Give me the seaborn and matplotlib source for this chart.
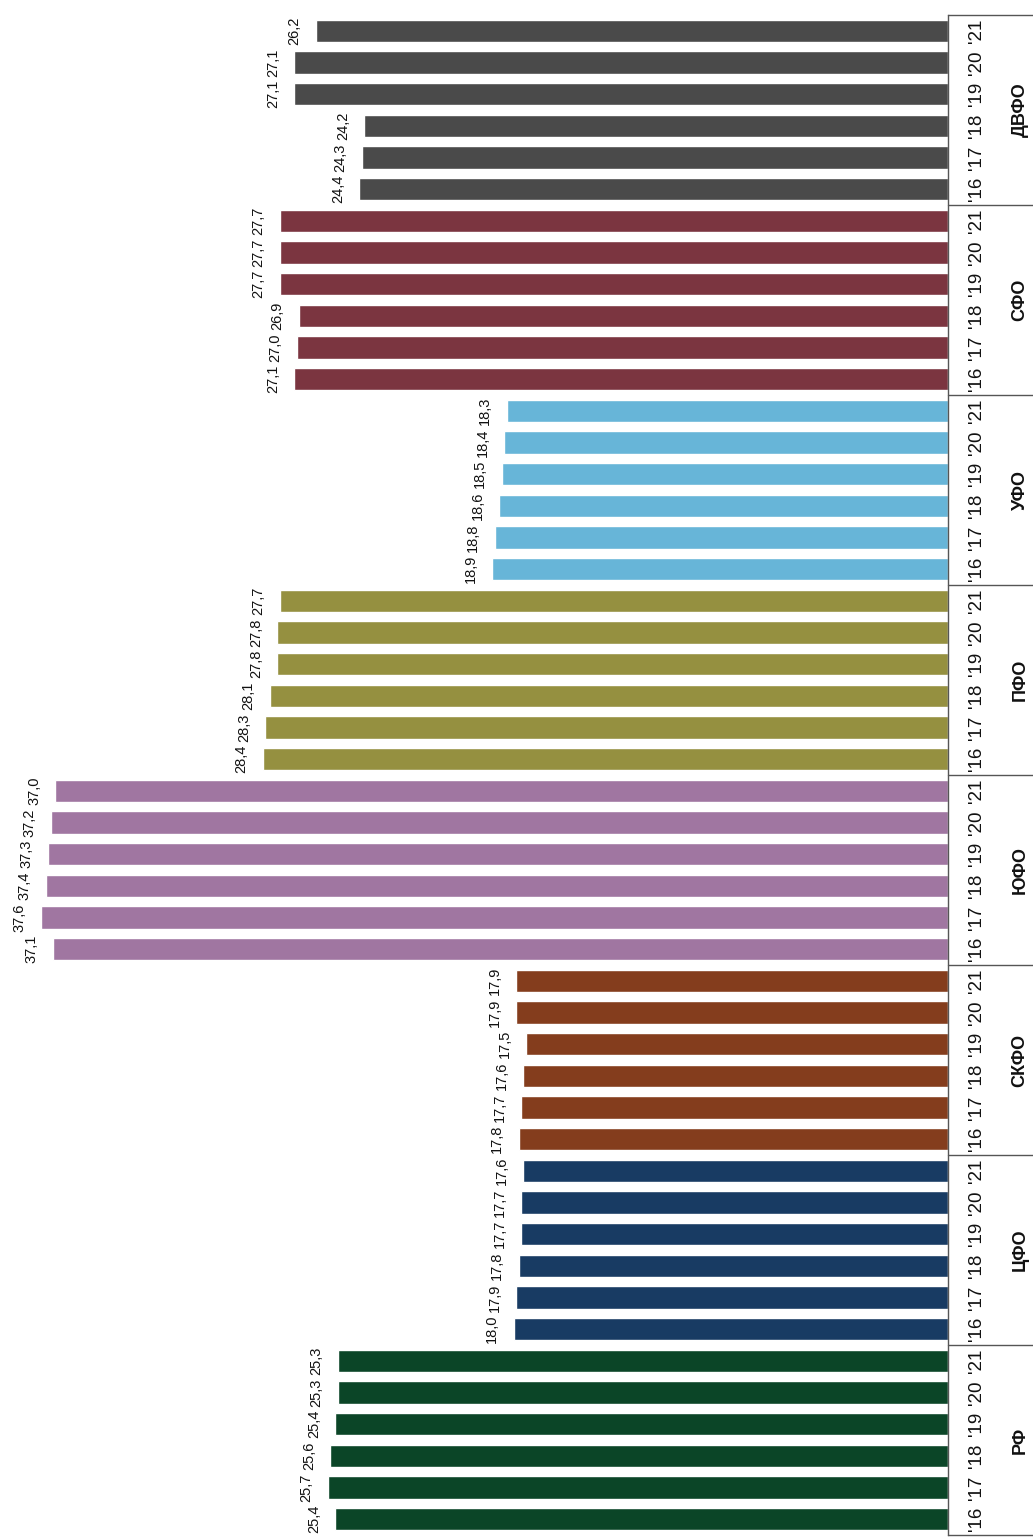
import numpy as np
import pandas as pd
import seaborn as sns
import matplotlib.pyplot as plt
import matplotlib.transforms as mtransforms

sns.set_theme(style="white")
plt.rcParams['font.family'] = ['Liberation Sans', 'DejaVu Sans']

# данные (по годам '16 .. '21)
regions = ['РФ', 'ЦФО', 'СКФО', 'ЮФО', 'ПФО', 'УФО', 'СФО', 'ДВФО']
years = ["'16", "'17", "'18", "'19", "'20", "'21"]
rf = [25.4, 25.7, 25.6, 25.4, 25.3, 25.3]
cfo = [18.0, 17.9, 17.8, 17.7, 17.7, 17.6]
skfo = [17.8, 17.7, 17.6, 17.5, 17.9, 17.9]
yufo = [37.1, 37.6, 37.4, 37.3, 37.2, 37.0]
pfo = [28.4, 28.3, 28.1, 27.8, 27.8, 27.7]
ufo = [18.9, 18.8, 18.6, 18.5, 18.4, 18.3]
sfo = [27.1, 27.0, 26.9, 27.7, 27.7, 27.7]
dvfo = [24.4, 24.3, 24.2, 27.1, 27.1, 26.2]
colors = ['#0b4527', '#183b63', '#843d1d', '#a076a1',
          '#959040', '#67b5d8', '#7b3540', '#4a4a4a']

series = [rf, cfo, skfo, yufo, pfo, ufo, sfo, dvfo]
rows = []
for g, (reg, vals) in enumerate(zip(regions, series)):
    for k, (yr, v) in enumerate(zip(years, vals)):
        rows.append({'region': reg, 'year': yr, 'value': v, 'pos': g * 6 + k})
df = pd.DataFrame(rows)

W, H = 1033, 1539
fig = plt.figure(figsize=(W / 100, H / 100), dpi=100)
ax_right = 948
ax = fig.add_axes([0, 4 / H, ax_right / W, 1520 / H])

sns.barplot(data=df, x='value', y='pos', hue='region', palette=colors,
            orient='h', native_scale=True, dodge=False, legend=False,
            width=0.7, saturation=1, ax=ax)

ax.set_xlim(39.3, 0)
ax.set_ylim(-0.5, len(df) - 0.5)
ax.set_xticks([])
ax.set_yticks([])
ax.set_xlabel('')
ax.set_ylabel('')
for side in ['top', 'bottom', 'left']:
    ax.spines[side].set_visible(False)
ax.spines['right'].set_color('#555555')
ax.spines['right'].set_linewidth(1)

# подписи значений
for _, r in df.iterrows():
    ax.text(r['value'] + 0.6, r['pos'], f"{r['value']:.1f}".replace('.', ','),
            rotation=90, ha='right', va='center', fontsize=10.5, color='#111111')

# таблица справа
trans = mtransforms.blended_transform_factory(ax.transAxes, ax.transData)
x_end = W / ax_right
for g in range(len(regions) + 1):
    ax.plot([1, x_end], [g * 6 - 0.5] * 2, transform=trans, color='#555555',
            lw=1, clip_on=False)
for _, r in df.iterrows():
    ax.text(977 / ax_right, r['pos'], r['year'], transform=trans, rotation=90,
            ha='center', va='center', fontsize=13.5, color='#111111', clip_on=False)
for g, reg in enumerate(regions):
    ax.text(1020 / ax_right, g * 6 + 2.5, reg, transform=trans, rotation=90,
            ha='center', va='center', fontsize=13, fontweight='bold',
            color='#111111', clip_on=False)

fig.savefig('out.png', dpi=100)
